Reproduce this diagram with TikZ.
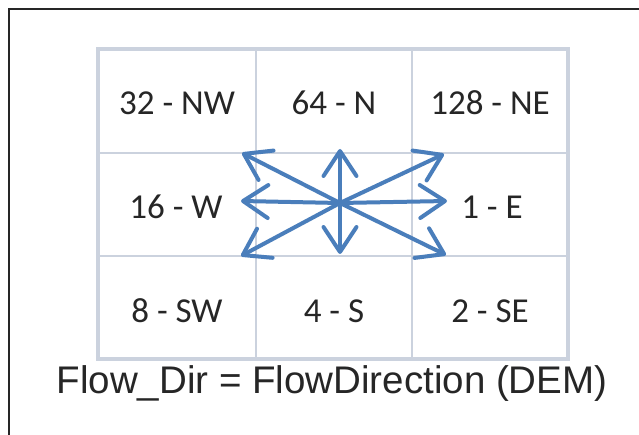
\documentclass[tikz,border=0pt]{standalone}
\usepackage{fontspec}
\setmainfont{Carlito}
\newfontfamily\captionfont{Liberation Sans}
\usetikzlibrary{arrows.meta}
\definecolor{gridline}{HTML}{CBD2DE}
\definecolor{flowblue}{HTML}{4A7EBB}
\definecolor{inkdark}{HTML}{262626}
\begin{document}
\begin{tikzpicture}[x=1pt,y=-1pt,
  frameline/.style={draw=black!85,line width=2pt},
  gridouter/.style={draw=gridline,line width=4.5pt},
  gridinner/.style={draw=gridline,line width=2.8pt},
  celllabel/.style={anchor=base,inner sep=0pt,text=inkdark,font=\fontsize{35}{40}\selectfont},
  flowarrow/.style={draw=flowblue,line width=4pt,line cap=round,line join=round,
    -{Straight Barb[length=25pt,width=33pt,line cap=round,line join=round]}},
  captiontext/.style={anchor=base,inner sep=0pt,text=inkdark,font=\captionfont\fontsize{38.5}{44}\selectfont}]
\useasboundingbox (0,0) rectangle (639,435);
\fill[white] (0,0) rectangle (639,435);
% outer frame (top and left edges)
\draw[frameline] (639,9) -- (9,9) -- (9,435);
% 3x3 direction grid
\draw[gridinner] (256,49) -- (256,359) (412,49) -- (412,359)
                 (98,153) -- (568,153) (98,256) -- (568,256);
\draw[gridouter] (98,49) rectangle (568,359);
% direction codes
\node[celllabel] (nw) at (177,115) {32 - NW};
\node[celllabel] (n)  at (334,115) {64 - N};
\node[celllabel] (ne) at (490,115) {128 - NE};
\node[celllabel] (w)  at (176,219) {16 - W};
\node[celllabel] (e)  at (492,219) {1 - E};
\node[celllabel] (sw) at (177,322) {8 - SW};
\node[celllabel] (s)  at (334,322) {4 - S};
\node[celllabel] (se) at (490,322) {2 - SE};
% flow arrows from the centre cell
\coordinate (c)   at (340,203);
\coordinate (tnw) at (242,153);
\coordinate (tw)  at (241,201);
\coordinate (tsw) at (241,256);
\coordinate (tn)  at (340,149);
\coordinate (ts)  at (340,254);
\coordinate (tne) at (444,154);
\coordinate (te)  at (447,201);
\coordinate (tse) at (446,255);
\foreach \t in {tnw,tw,tsw,tn,ts,tne,te,tse}
  \draw[flowarrow] (c) -- (\t);
% caption
\node[captiontext] (cap) at (332,393) {Flow\_Dir = FlowDirection (DEM)};
\end{tikzpicture}
\end{document}
